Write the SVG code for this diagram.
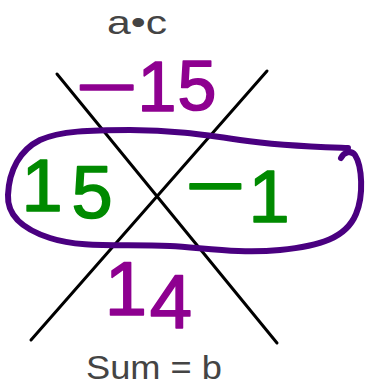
<svg xmlns="http://www.w3.org/2000/svg" width="366" height="385" viewBox="0 0 366 385">
<style>
.lbl{font-family:"Liberation Sans",Arial,sans-serif;fill:#444;font-size:33px}
.hand{font-family:"Liberation Sans",Arial,sans-serif;stroke-width:1.6;stroke-linejoin:round;text-anchor:middle}
.pur{fill:#8e0090;stroke:#8e0090}
.grn{fill:#008a00;stroke:#008a00}
.ln{stroke:#000;stroke-width:3;stroke-linecap:round;fill:none}
</style>
<rect width="366" height="385" fill="#fff"/>
<g id="connectors">
<line class="ln" x1="57" y1="74" x2="277" y2="343"/>
<line class="ln" x1="267" y1="71" x2="31" y2="340"/>
</g>
<g id="label-ac"><text class="lbl" x="107" y="34" textLength="60" lengthAdjust="spacingAndGlyphs">a•c</text></g>
<g id="label-sum"><text class="lbl" x="86" y="379" textLength="136" lengthAdjust="spacingAndGlyphs">Sum = b</text></g>
<g id="loop"><path d="M341,158 C344,152 351,150 355,155 C362,166 364,195 356,214 C346,238 320,246 280,250 C240,254 205,248 170,246 C120,244 80,248 50,238 C22,229 7,215 8,195 C9,170 20,150 40,140 C60,131 90,130 130,130 C170,130 200,134 240,140 C280,146 320,147 348,148" fill="none" stroke="#4a0080" stroke-width="6" stroke-linecap="round" stroke-linejoin="round"/></g>
<g id="product"><text class="hand pur" font-size="70"><tspan x="107" y="111" textLength="62" lengthAdjust="spacingAndGlyphs">−</tspan><tspan x="157" y="111">1</tspan><tspan x="197" y="110">5</tspan></text></g>
<g id="factor1"><text class="hand grn" font-size="74"><tspan x="42" y="211">1</tspan><tspan x="92" y="218">5</tspan></text></g>
<g id="factor2"><text class="hand grn" font-size="74"><tspan x="215" y="211" textLength="60" lengthAdjust="spacingAndGlyphs">−</tspan><tspan x="269" y="222">1</tspan></text></g>
<g id="sum"><text class="hand pur" font-size="76"><tspan x="126" y="315">1</tspan><tspan x="171" y="328">4</tspan></text></g>
</svg>
